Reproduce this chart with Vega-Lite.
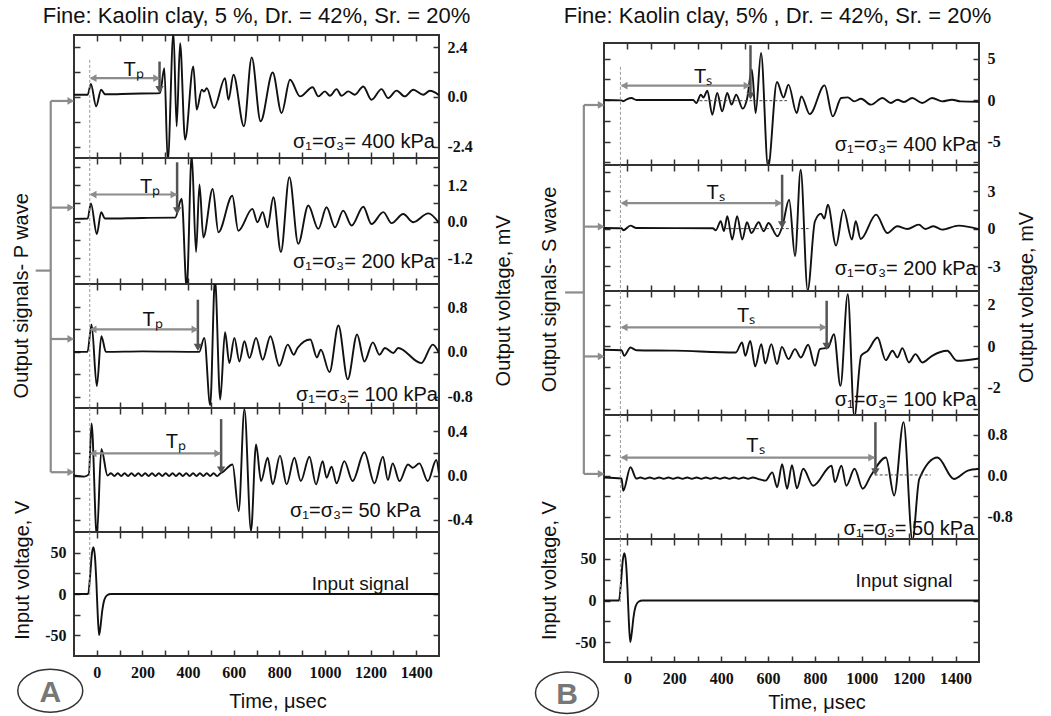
{
"$schema":"https://vega.github.io/schema/vega-lite/v6.json",
"background":"white",
"padding":{"left":10,"top":4,"right":5,"bottom":5},
"config":{"view":{"stroke":"#333","strokeWidth":2},"font":"Liberation Sans",
 "line":{"strokeWidth":1.9,"color":"#111","interpolate":"monotone"},
 "axis":{"domain":false,"grid":false,"tickColor":"#333","tickWidth":1.5,"tickSize":-6,"labelFont":"Liberation Sans Narrow","labelFontSize":16,"labelFontWeight":700,"labelColor":"#111","labelOverlap":false,"labelFlush":false,"labelPadding":14}},
"datasets":{
"w":[
{"s":"A1","t":-100,"v":0.1},{"s":"A1","t":-40,"v":0.1},{"s":"A1","t":-26,"v":0.62},{"s":"A1","t":-3,"v":-0.46},{"s":"A1","t":19,"v":0.34},{"s":"A1","t":36,"v":0.12},{"s":"A1","t":150,"v":0.15},{"s":"A1","t":277,"v":0.18},{"s":"A1","t":296,"v":1.38},{"s":"A1","t":311,"v":-3.1},{"s":"A1","t":336,"v":3.1},{"s":"A1","t":350,"v":-1.42},{"s":"A1","t":365,"v":2.58},{"s":"A1","t":387,"v":-2.06},{"s":"A1","t":423,"v":1.46},{"s":"A1","t":438,"v":-0.62},{"s":"A1","t":460,"v":0.34},{"s":"A1","t":470,"v":0.25},{"s":"A1","t":482,"v":0.42},{"s":"A1","t":514,"v":-0.54},{"s":"A1","t":562,"v":0.9},{"s":"A1","t":577,"v":-0.14},{"s":"A1","t":599,"v":1.06},{"s":"A1","t":645,"v":-1.42},{"s":"A1","t":679,"v":1.9},{"s":"A1","t":718,"v":-1.18},{"s":"A1","t":771,"v":1.17},{"s":"A1","t":810,"v":-0.78},{"s":"A1","t":847,"v":0.82},{"s":"A1","t":891,"v":0.02},{"s":"A1","t":946,"v":0.46},{"s":"A1","t":971,"v":0.02},{"s":"A1","t":1000,"v":0.26},{"s":"A1","t":1022,"v":0.05},{"s":"A1","t":1051,"v":0.37},{"s":"A1","t":1073,"v":0.05},{"s":"A1","t":1102,"v":0.26},{"s":"A1","t":1131,"v":0.1},{"s":"A1","t":1168,"v":0.5},{"s":"A1","t":1204,"v":-0.14},{"s":"A1","t":1248,"v":0.37},{"s":"A1","t":1277,"v":-0.06},{"s":"A1","t":1314,"v":0.3},{"s":"A1","t":1350,"v":0.02},{"s":"A1","t":1387,"v":0.34},{"s":"A1","t":1431,"v":0.1},{"s":"A1","t":1460,"v":0.29},{"s":"A1","t":1500,"v":0.08},
{"s":"A2","t":-100,"v":0.09},{"s":"A2","t":-40,"v":0.1},{"s":"A2","t":-26,"v":0.6},{"s":"A2","t":0,"v":-0.41},{"s":"A2","t":19,"v":0.31},{"s":"A2","t":36,"v":0.1},{"s":"A2","t":200,"v":0.12},{"s":"A2","t":343,"v":0.13},{"s":"A2","t":372,"v":0.75},{"s":"A2","t":394,"v":-2.2},{"s":"A2","t":416,"v":2.2},{"s":"A2","t":435,"v":-1.0},{"s":"A2","t":450,"v":1.22},{"s":"A2","t":467,"v":-0.52},{"s":"A2","t":508,"v":1.07},{"s":"A2","t":533,"v":-0.35},{"s":"A2","t":594,"v":0.85},{"s":"A2","t":620,"v":-0.3},{"s":"A2","t":682,"v":0.42},{"s":"A2","t":704,"v":-0.02},{"s":"A2","t":727,"v":0.31},{"s":"A2","t":748,"v":-0.19},{"s":"A2","t":774,"v":0.8},{"s":"A2","t":807,"v":-1.0},{"s":"A2","t":844,"v":1.46},{"s":"A2","t":883,"v":-0.73},{"s":"A2","t":927,"v":0.53},{"s":"A2","t":971,"v":-0.24},{"s":"A2","t":1007,"v":0.47},{"s":"A2","t":1044,"v":-0.19},{"s":"A2","t":1080,"v":0.36},{"s":"A2","t":1117,"v":-0.13},{"s":"A2","t":1168,"v":0.49},{"s":"A2","t":1204,"v":-0.08},{"s":"A2","t":1256,"v":0.31},{"s":"A2","t":1292,"v":-0.05},{"s":"A2","t":1343,"v":0.25},{"s":"A2","t":1387,"v":-0.02},{"s":"A2","t":1453,"v":0.27},{"s":"A2","t":1500,"v":-0.05},
{"s":"A3","t":-100,"v":0},{"s":"A3","t":-41,"v":0},{"s":"A3","t":-23,"v":0.49},{"s":"A3","t":0,"v":-0.61},{"s":"A3","t":20,"v":0.28},{"s":"A3","t":40,"v":0},{"s":"A3","t":200,"v":0.01},{"s":"A3","t":449,"v":0},{"s":"A3","t":471,"v":0.25},{"s":"A3","t":497,"v":-0.95},{"s":"A3","t":518,"v":1.3},{"s":"A3","t":541,"v":-0.85},{"s":"A3","t":562,"v":0.35},{"s":"A3","t":581,"v":-0.2},{"s":"A3","t":603,"v":0.25},{"s":"A3","t":625,"v":-0.17},{"s":"A3","t":647,"v":0.19},{"s":"A3","t":669,"v":-0.11},{"s":"A3","t":698,"v":0.25},{"s":"A3","t":727,"v":-0.14},{"s":"A3","t":761,"v":0.28},{"s":"A3","t":800,"v":-0.25},{"s":"A3","t":837,"v":0.13},{"s":"A3","t":863,"v":-0.05},{"s":"A3","t":880,"v":0.07},{"s":"A3","t":936,"v":0.22},{"s":"A3","t":965,"v":-0.1},{"s":"A3","t":982,"v":0.04},{"s":"A3","t":1020,"v":-0.36},{"s":"A3","t":1059,"v":0.47},{"s":"A3","t":1100,"v":-0.49},{"s":"A3","t":1141,"v":0.31},{"s":"A3","t":1173,"v":-0.17},{"s":"A3","t":1210,"v":0.17},{"s":"A3","t":1239,"v":-0.05},{"s":"A3","t":1263,"v":0.07},{"s":"A3","t":1300,"v":-0.02},{"s":"A3","t":1321,"v":0.07},{"s":"A3","t":1422,"v":-0.2},{"s":"A3","t":1473,"v":0.13},{"s":"A3","t":1500,"v":-0.02},
{"s":"A4","t":-100,"v":0},{"s":"A4","t":-55,"v":-0.01},{"s":"A4","t":-35,"v":0.01},{"s":"A4","t":-23,"v":0.47},{"s":"A4","t":0,"v":-0.55},{"s":"A4","t":20,"v":0.24},{"s":"A4","t":47,"v":0},{"s":"A4","t":62,"v":0.02},{"s":"A4","t":77,"v":-0.005},{"s":"A4","t":92,"v":0.02},{"s":"A4","t":107,"v":-0.005},{"s":"A4","t":122,"v":0.02},{"s":"A4","t":137,"v":-0.005},{"s":"A4","t":152,"v":0.02},{"s":"A4","t":167,"v":-0.005},{"s":"A4","t":182,"v":0.02},{"s":"A4","t":197,"v":-0.005},{"s":"A4","t":212,"v":0.02},{"s":"A4","t":227,"v":-0.005},{"s":"A4","t":242,"v":0.02},{"s":"A4","t":257,"v":-0.005},{"s":"A4","t":272,"v":0.02},{"s":"A4","t":287,"v":-0.005},{"s":"A4","t":302,"v":0.02},{"s":"A4","t":317,"v":-0.005},{"s":"A4","t":332,"v":0.02},{"s":"A4","t":347,"v":-0.005},{"s":"A4","t":362,"v":0.02},{"s":"A4","t":377,"v":-0.005},{"s":"A4","t":392,"v":0.02},{"s":"A4","t":407,"v":-0.005},{"s":"A4","t":422,"v":0.02},{"s":"A4","t":437,"v":-0.005},{"s":"A4","t":452,"v":0.02},{"s":"A4","t":467,"v":-0.005},{"s":"A4","t":482,"v":0.02},{"s":"A4","t":497,"v":-0.005},{"s":"A4","t":512,"v":0.02},{"s":"A4","t":527,"v":-0.005},{"s":"A4","t":542,"v":0.02},{"s":"A4","t":551,"v":0.03},{"s":"A4","t":595,"v":0.1},{"s":"A4","t":622,"v":-0.32},{"s":"A4","t":647,"v":0.6},{"s":"A4","t":676,"v":-0.5},{"s":"A4","t":698,"v":0.28},{"s":"A4","t":720,"v":-0.05},{"s":"A4","t":749,"v":0.16},{"s":"A4","t":771,"v":-0.08},{"s":"A4","t":803,"v":0.18},{"s":"A4","t":832,"v":-0.08},{"s":"A4","t":866,"v":0.16},{"s":"A4","t":894,"v":-0.05},{"s":"A4","t":932,"v":0.17},{"s":"A4","t":961,"v":-0.08},{"s":"A4","t":990,"v":0.13},{"s":"A4","t":1007,"v":-0.02},{"s":"A4","t":1029,"v":0.08},{"s":"A4","t":1051,"v":-0.07},{"s":"A4","t":1085,"v":0.13},{"s":"A4","t":1121,"v":-0.05},{"s":"A4","t":1173,"v":0.21},{"s":"A4","t":1217,"v":-0.07},{"s":"A4","t":1254,"v":0.17},{"s":"A4","t":1276,"v":-0.04},{"s":"A4","t":1297,"v":0.11},{"s":"A4","t":1327,"v":-0.05},{"s":"A4","t":1364,"v":0.1},{"s":"A4","t":1385,"v":0.07},{"s":"A4","t":1414,"v":0.11},{"s":"A4","t":1451,"v":-0.05},{"s":"A4","t":1488,"v":0.14},{"s":"A4","t":1500,"v":0.02},
{"s":"A5","t":-100,"v":0},{"s":"A5","t":-38,"v":0},{"s":"A5","t":-30,"v":20},{"s":"A5","t":-22,"v":48},{"s":"A5","t":-15,"v":57},{"s":"A5","t":-8,"v":45},{"s":"A5","t":-2,"v":15},{"s":"A5","t":4,"v":-25},{"s":"A5","t":10,"v":-50},{"s":"A5","t":16,"v":-40},{"s":"A5","t":24,"v":-20},{"s":"A5","t":33,"v":-7},{"s":"A5","t":45,"v":-1.5},{"s":"A5","t":62,"v":0},{"s":"A5","t":1500,"v":0},
{"s":"B1","t":-100,"v":0},{"s":"B1","t":-25,"v":-0.04},{"s":"B1","t":-18,"v":-0.15},{"s":"B1","t":-1,"v":0.12},{"s":"B1","t":17,"v":0.24},{"s":"B1","t":38,"v":0},{"s":"B1","t":280,"v":0},{"s":"B1","t":294,"v":-0.36},{"s":"B1","t":313,"v":0.64},{"s":"B1","t":324,"v":0.3},{"s":"B1","t":341,"v":1.12},{"s":"B1","t":362,"v":-1.77},{"s":"B1","t":383,"v":0.84},{"s":"B1","t":404,"v":-1.37},{"s":"B1","t":426,"v":0.84},{"s":"B1","t":444,"v":-0.56},{"s":"B1","t":464,"v":0.64},{"s":"B1","t":492,"v":-1.04},{"s":"B1","t":510,"v":0.1},{"s":"B1","t":531,"v":3.65},{"s":"B1","t":547,"v":-1.57},{"s":"B1","t":570,"v":5.66},{"s":"B1","t":600,"v":-8.1},{"s":"B1","t":638,"v":2.17},{"s":"B1","t":666,"v":0.3},{"s":"B1","t":687,"v":1.85},{"s":"B1","t":722,"v":-1.57},{"s":"B1","t":742,"v":0.44},{"s":"B1","t":778,"v":-1.7},{"s":"B1","t":841,"v":1.77},{"s":"B1","t":876,"v":-1.97},{"s":"B1","t":912,"v":0.24},{"s":"B1","t":940,"v":0.32},{"s":"B1","t":968,"v":-0.16},{"s":"B1","t":997,"v":0.16},{"s":"B1","t":1039,"v":-0.56},{"s":"B1","t":1088,"v":0.24},{"s":"B1","t":1124,"v":-0.36},{"s":"B1","t":1152,"v":0.04},{"s":"B1","t":1180,"v":-0.24},{"s":"B1","t":1215,"v":0.24},{"s":"B1","t":1258,"v":-0.36},{"s":"B1","t":1300,"v":0.24},{"s":"B1","t":1343,"v":-0.16},{"s":"B1","t":1385,"v":0.04},{"s":"B1","t":1420,"v":-0.16},{"s":"B1","t":1500,"v":-0.2},
{"s":"B2","t":-100,"v":0.05},{"s":"B2","t":-25,"v":0.03},{"s":"B2","t":-18,"v":-0.13},{"s":"B2","t":13,"v":0.24},{"s":"B2","t":38,"v":0.05},{"s":"B2","t":364,"v":0.03},{"s":"B2","t":377,"v":-0.13},{"s":"B2","t":398,"v":0.59},{"s":"B2","t":412,"v":-0.2},{"s":"B2","t":426,"v":0.99},{"s":"B2","t":447,"v":-0.88},{"s":"B2","t":468,"v":0.99},{"s":"B2","t":490,"v":-0.88},{"s":"B2","t":510,"v":0.51},{"s":"B2","t":529,"v":-0.35},{"s":"B2","t":560,"v":0.51},{"s":"B2","t":581,"v":-0.21},{"s":"B2","t":602,"v":0.45},{"s":"B2","t":640,"v":-0.61},{"s":"B2","t":661,"v":0.19},{"s":"B2","t":690,"v":2.32},{"s":"B2","t":715,"v":-2.21},{"s":"B2","t":739,"v":4.72},{"s":"B2","t":769,"v":-4.95},{"s":"B2","t":800,"v":0.59},{"s":"B2","t":826,"v":1.2},{"s":"B2","t":840,"v":0.8},{"s":"B2","t":855,"v":1.92},{"s":"B2","t":890,"v":-1.36},{"s":"B2","t":922,"v":1.52},{"s":"B2","t":958,"v":-0.88},{"s":"B2","t":974,"v":0.59},{"s":"B2","t":995,"v":-0.83},{"s":"B2","t":1061,"v":1.12},{"s":"B2","t":1109,"v":-0.35},{"s":"B2","t":1151,"v":0.19},{"s":"B2","t":1194,"v":-0.03},{"s":"B2","t":1243,"v":0.32},{"s":"B2","t":1271,"v":-0.03},{"s":"B2","t":1306,"v":0.19},{"s":"B2","t":1342,"v":-0.08},{"s":"B2","t":1413,"v":0.24},{"s":"B2","t":1500,"v":-0.05},
{"s":"B3","t":-100,"v":-0.16},{"s":"B3","t":-25,"v":-0.18},{"s":"B3","t":-14,"v":-0.45},{"s":"B3","t":13,"v":-0.05},{"s":"B3","t":38,"v":-0.18},{"s":"B3","t":200,"v":-0.2},{"s":"B3","t":462,"v":-0.29},{"s":"B3","t":489,"v":0.19},{"s":"B3","t":503,"v":-0.45},{"s":"B3","t":524,"v":0.27},{"s":"B3","t":545,"v":-0.96},{"s":"B3","t":571,"v":0.11},{"s":"B3","t":588,"v":-0.82},{"s":"B3","t":614,"v":0.11},{"s":"B3","t":638,"v":-0.85},{"s":"B3","t":659,"v":-0.02},{"s":"B3","t":687,"v":-0.61},{"s":"B3","t":715,"v":-0.13},{"s":"B3","t":740,"v":-0.53},{"s":"B3","t":771,"v":0.08},{"s":"B3","t":800,"v":-0.93},{"s":"B3","t":821,"v":-0.13},{"s":"B3","t":856,"v":-0.05},{"s":"B3","t":881,"v":0.59},{"s":"B3","t":909,"v":-1.9},{"s":"B3","t":940,"v":2.52},{"s":"B3","t":968,"v":-3.4},{"s":"B3","t":997,"v":-0.45},{"s":"B3","t":1025,"v":-0.21},{"s":"B3","t":1067,"v":0.43},{"s":"B3","t":1102,"v":-0.66},{"s":"B3","t":1131,"v":-0.21},{"s":"B3","t":1152,"v":-0.53},{"s":"B3","t":1173,"v":-0.08},{"s":"B3","t":1201,"v":-0.77},{"s":"B3","t":1229,"v":-0.37},{"s":"B3","t":1258,"v":-0.77},{"s":"B3","t":1300,"v":-0.45},{"s":"B3","t":1364,"v":-0.21},{"s":"B3","t":1406,"v":-0.69},{"s":"B3","t":1500,"v":-0.58},
{"s":"B4","t":-100,"v":-0.03},{"s":"B4","t":-25,"v":-0.05},{"s":"B4","t":-18,"v":-0.29},{"s":"B4","t":13,"v":0.17},{"s":"B4","t":38,"v":-0.05},{"s":"B4","t":55,"v":-0.03},{"s":"B4","t":75,"v":-0.055},{"s":"B4","t":95,"v":-0.03},{"s":"B4","t":115,"v":-0.055},{"s":"B4","t":135,"v":-0.03},{"s":"B4","t":155,"v":-0.055},{"s":"B4","t":175,"v":-0.03},{"s":"B4","t":195,"v":-0.055},{"s":"B4","t":215,"v":-0.03},{"s":"B4","t":235,"v":-0.055},{"s":"B4","t":255,"v":-0.03},{"s":"B4","t":275,"v":-0.055},{"s":"B4","t":295,"v":-0.03},{"s":"B4","t":315,"v":-0.055},{"s":"B4","t":335,"v":-0.03},{"s":"B4","t":355,"v":-0.055},{"s":"B4","t":375,"v":-0.03},{"s":"B4","t":395,"v":-0.055},{"s":"B4","t":415,"v":-0.03},{"s":"B4","t":435,"v":-0.055},{"s":"B4","t":455,"v":-0.03},{"s":"B4","t":475,"v":-0.055},{"s":"B4","t":495,"v":-0.03},{"s":"B4","t":515,"v":-0.055},{"s":"B4","t":535,"v":-0.03},{"s":"B4","t":560,"v":-0.06},{"s":"B4","t":589,"v":-0.09},{"s":"B4","t":618,"v":0.07},{"s":"B4","t":639,"v":-0.22},{"s":"B4","t":660,"v":0.23},{"s":"B4","t":681,"v":-0.25},{"s":"B4","t":702,"v":0.21},{"s":"B4","t":723,"v":-0.24},{"s":"B4","t":750,"v":0.14},{"s":"B4","t":792,"v":-0.19},{"s":"B4","t":871,"v":0.2},{"s":"B4","t":885,"v":-0.12},{"s":"B4","t":913,"v":0.2},{"s":"B4","t":934,"v":-0.19},{"s":"B4","t":969,"v":0.14},{"s":"B4","t":1004,"v":-0.25},{"s":"B4","t":1039,"v":0.01},{"s":"B4","t":1103,"v":0.36},{"s":"B4","t":1138,"v":-0.38},{"s":"B4","t":1178,"v":1.05},{"s":"B4","t":1216,"v":-1.25},{"s":"B4","t":1245,"v":-0.06},{"s":"B4","t":1323,"v":0.36},{"s":"B4","t":1393,"v":-0.06},{"s":"B4","t":1450,"v":0.1},{"s":"B4","t":1500,"v":0.14},
{"s":"B5","t":-100,"v":0},{"s":"B5","t":-36,"v":0},{"s":"B5","t":-28,"v":20},{"s":"B5","t":-20,"v":48},{"s":"B5","t":-13,"v":57},{"s":"B5","t":-6,"v":45},{"s":"B5","t":0,"v":15},{"s":"B5","t":6,"v":-25},{"s":"B5","t":12,"v":-50},{"s":"B5","t":18,"v":-40},{"s":"B5","t":26,"v":-20},{"s":"B5","t":35,"v":-7},{"s":"B5","t":47,"v":-1.5},{"s":"B5","t":65,"v":0},{"s":"B5","t":1500,"v":0}
],
"a":[
{"s":"A1","k":"vdash","t":-31,"v":1.78,"v2":-2.95},{"s":"A2","k":"vdash","t":-31,"v":2.09,"v2":-2.05},{"s":"A3","k":"vdash","t":-31,"v":1.21,"v2":-1.0},{"s":"A4","k":"vdash","t":-31,"v":0.61,"v2":-0.51},{"s":"A5","k":"vdash","t":-31,"v":75.6,"v2":-4},
{"s":"B1","k":"vdash","t":-30,"v":4.0,"v2":-7.83},{"s":"B2","k":"vdash","t":-30,"v":5.1,"v2":-5.0},{"s":"B3","k":"vdash","t":-30,"v":2.67,"v2":-3.3},{"s":"B4","k":"vdash","t":-30,"v":1.19,"v2":-1.23},{"s":"B5","k":"vdash","t":-30,"v":74,"v2":-4},
{"s":"A1","k":"g","t":-26,"t2":272,"v":0.9,"v2":0.9},{"s":"A1","k":"g","t":-202,"t2":-202,"v":-0.2,"v2":-2.95},{"s":"A1","k":"g","t":-202,"t2":-122,"v":-0.2,"v2":-0.2},
{"s":"A2","k":"g","t":-26,"t2":348,"v":0.89,"v2":0.89},{"s":"A2","k":"g","t":-202,"t2":-202,"v":2.09,"v2":-2.05},{"s":"A2","k":"g","t":-202,"t2":-122,"v":0.46,"v2":0.46},{"s":"A2","k":"g","t":-268,"t2":-202,"v":-1.61,"v2":-1.61},
{"s":"A3","k":"g","t":-26,"t2":440,"v":0.4,"v2":0.4},{"s":"A3","k":"g","t":-202,"t2":-202,"v":1.21,"v2":-1.0},{"s":"A3","k":"g","t":-202,"t2":-122,"v":0.23,"v2":0.23},
{"s":"A4","k":"g","t":-26,"t2":540,"v":0.2,"v2":0.2},{"s":"A4","k":"g","t":-202,"t2":-202,"v":0.61,"v2":0.03},{"s":"A4","k":"g","t":-202,"t2":-122,"v":0.03,"v2":0.03},
{"s":"B1","k":"g","t":-24,"t2":520,"v":1.73,"v2":1.73},{"s":"B1","k":"g","t":-186,"t2":-186,"v":-0.6,"v2":-7.83},{"s":"B1","k":"g","t":-186,"t2":-120,"v":-0.6,"v2":-0.6},
{"s":"B2","k":"g","t":-24,"t2":655,"v":2.05,"v2":2.05},{"s":"B2","k":"g","t":-186,"t2":-186,"v":5.1,"v2":-5.0},{"s":"B2","k":"g","t":-186,"t2":-120,"v":0.16,"v2":0.16},
{"s":"B3","k":"g","t":-24,"t2":845,"v":0.92,"v2":0.92},{"s":"B3","k":"g","t":-186,"t2":-186,"v":2.67,"v2":-3.3},{"s":"B3","k":"g","t":-186,"t2":-120,"v":-0.48,"v2":-0.48},{"s":"B3","k":"g","t":-266,"t2":-186,"v":2.6,"v2":2.6},
{"s":"B4","k":"g","t":-24,"t2":1052,"v":0.36,"v2":0.36},{"s":"B4","k":"g","t":-186,"t2":-186,"v":1.19,"v2":0.04},{"s":"B4","k":"g","t":-186,"t2":-120,"v":0.04,"v2":0.04},
{"s":"A1","k":"hr","t":262,"v":0.9},{"s":"A1","k":"hr","t":-114,"v":-0.2},{"s":"A2","k":"hr","t":338,"v":0.89},{"s":"A2","k":"hr","t":-114,"v":0.46},{"s":"A3","k":"hr","t":430,"v":0.4},{"s":"A3","k":"hr","t":-114,"v":0.23},{"s":"A4","k":"hr","t":530,"v":0.2},{"s":"A4","k":"hr","t":-114,"v":0.03},
{"s":"B1","k":"hr","t":510,"v":1.73},{"s":"B1","k":"hr","t":-112,"v":-0.6},{"s":"B2","k":"hr","t":645,"v":2.05},{"s":"B2","k":"hr","t":-112,"v":0.16},{"s":"B3","k":"hr","t":835,"v":0.92},{"s":"B3","k":"hr","t":-112,"v":-0.48},{"s":"B4","k":"hr","t":1042,"v":0.36},{"s":"B4","k":"hr","t":-112,"v":0.04},
{"s":"A1","k":"hl","t":-16,"v":0.9},{"s":"A2","k":"hl","t":-16,"v":0.89},{"s":"A3","k":"hl","t":-16,"v":0.4},{"s":"A4","k":"hl","t":-16,"v":0.2},{"s":"B1","k":"hl","t":-14,"v":1.73},{"s":"B2","k":"hl","t":-14,"v":2.05},{"s":"B3","k":"hl","t":-14,"v":0.92},{"s":"B4","k":"hl","t":-14,"v":0.36},
{"s":"A1","k":"tv","t":275,"v":1.7,"v2":0.35},{"s":"A2","k":"tv","t":352,"v":1.95,"v2":0.35},{"s":"A3","k":"tv","t":443,"v":0.93,"v2":0.08},{"s":"A4","k":"tv","t":545,"v":0.51,"v2":0.05},{"s":"B1","k":"tv","t":525,"v":6.6,"v2":0.5},{"s":"B2","k":"tv","t":660,"v":4.32,"v2":0.3},{"s":"B3","k":"tv","t":850,"v":2.2,"v2":0.0},{"s":"B4","k":"tv","t":1058,"v":1.05,"v2":0.08},
{"s":"A1","k":"vd","t":275,"v":0.35},{"s":"A2","k":"vd","t":352,"v":0.35},{"s":"A3","k":"vd","t":443,"v":0.08},{"s":"A4","k":"vd","t":545,"v":0.05},{"s":"B1","k":"vd","t":525,"v":0.5},{"s":"B2","k":"vd","t":660,"v":0.3},{"s":"B3","k":"vd","t":850,"v":0.0},{"s":"B4","k":"vd","t":1058,"v":0.08},
{"s":"B1","k":"hd","t":307,"t2":681,"v":-0.08},{"s":"B2","k":"hd","t":420,"t2":773,"v":0},{"s":"B4","k":"hd","t":1055,"t2":1294,"v":0.02},
{"s":"A1","k":"tlab","t":161,"v":1.3,"label":"Tₚ"},{"s":"A2","k":"tlab","t":234,"v":1.13,"label":"Tₚ"},{"s":"A3","k":"tlab","t":245,"v":0.575,"label":"Tₚ"},{"s":"A4","k":"tlab","t":347,"v":0.306,"label":"Tₚ"},
{"s":"B1","k":"tlab","t":323,"v":2.73,"label":"Tₛ"},{"s":"B2","k":"tlab","t":376,"v":2.85,"label":"Tₛ"},{"s":"B3","k":"tlab","t":506,"v":1.48,"label":"Tₛ"},{"s":"B4","k":"tlab","t":546,"v":0.59,"label":"Tₛ"},
{"s":"A1","k":"plab","t":1482,"v":-2.46,"label":"σ₁=σ₃= 400 kPa"},{"s":"A2","k":"plab","t":1482,"v":-1.52,"label":"σ₁=σ₃= 200 kPa"},{"s":"A3","k":"plab","t":1495,"v":-0.88,"label":"σ₁=σ₃= 100 kPa"},{"s":"A4","k":"plab","t":1420,"v":-0.37,"label":"σ₁=σ₃= 50 kPa"},
{"s":"B1","k":"plab","t":1490,"v":-6.18,"label":"σ₁=σ₃= 400 kPa"},{"s":"B2","k":"plab","t":1490,"v":-3.68,"label":"σ₁=σ₃= 200 kPa"},{"s":"B3","k":"plab","t":1490,"v":-2.86,"label":"σ₁=σ₃= 100 kPa"},{"s":"B4","k":"plab","t":1480,"v":-1.16,"label":"σ₁=σ₃= 50 kPa"},
{"s":"A3","k":"side","t":-329,"v":1.0,"label":"Output signals- P wave"},{"s":"A3","k":"side","t":1785,"v":0.91,"label":"Output voltage, mV"},{"s":"A5","k":"side","t":-325,"v":29,"label":"Input voltage, V"},
{"s":"B3","k":"side","t":-330,"v":2.75,"label":"Output signals- S wave"},{"s":"B3","k":"side","t":1705,"v":2.36,"label":"Output voltage, mV"},{"s":"B5","k":"side","t":-330,"v":36,"label":"Input voltage, V"},
{"s":"A5","k":"ilab","t":1155,"v":4.9,"label":"Input signal"},{"s":"B5","k":"ilab","t":1180,"v":16,"label":"Input signal"},
{"s":"A5","k":"xt","t":794,"v":-131.7,"label":"Time, μsec"},{"s":"B5","k":"xt","t":809,"v":-123,"label":"Time, μsec"},
{"s":"A5","k":"circ","t":-204,"v":-118,"label":"A"},{"s":"B5","k":"circ","t":-258,"v":-111,"label":"B"}
]},
"hconcat":[
{"vconcat":[
{"width":365,"height":123,
 "title":{"text":"Fine: Kaolin clay, 5 %, Dr. = 42%, Sr. = 20%","fontSize":22,"fontWeight":"normal","font":"Liberation Sans","color":"#111","offset":6,"anchor":"middle"},
 "resolve":{"axis":{"x":"independent","y":"independent"}},
 "layer":[
 {"data":{"name":"w"},"transform":[{"filter":"datum.s=='A1'"}],"mark":{"type":"line","clip":true},
  "encoding":{"x":{"field":"t","type":"quantitative","scale":{"domain":[-100,1500],"nice":false,"zero":false},"axis":{"orient":"bottom","values":[0,100,200,300,400,500,600,700,800,900,1000,1100,1200,1300,1400],"labels":false,"title":null}},
   "y":{"field":"v","type":"quantitative","scale":{"domain":[-2.95,2.98],"nice":false,"zero":false},"axis":{"orient":"right","values":[-2.4,-1.2,0,1.2,2.4],"labelExpr":"datum.value==2.4?'2.4':datum.value==0?'0.0':datum.value==-2.4?'-2.4':''","title":null}}}},
 {"data":{"name":"a"},"transform":[{"filter":"datum.s=='A1'&&datum.k=='vdash'"}],"mark":{"type":"rule","color":"#999","strokeDash":[3,2],"strokeWidth":1},
  "encoding":{"x":{"field":"t","type":"quantitative","axis":{"orient":"top","values":[0,100,200,300,400,500,600,700,800,900,1000,1100,1200,1300,1400],"labels":false,"title":null}},"y":{"field":"v","type":"quantitative","axis":{"orient":"left","values":[-2.4,-1.2,0,1.2,2.4],"labels":false,"title":null}},"y2":{"field":"v2"}}},
 {"data":{"name":"a"},"transform":[{"filter":"datum.s=='A1'&&datum.k=='g'"}],"mark":{"type":"rule","color":"#8c8c8c","strokeWidth":2.2},
  "encoding":{"x":{"field":"t","type":"quantitative","axis":null},"x2":{"field":"t2"},"y":{"field":"v","type":"quantitative","axis":null},"y2":{"field":"v2"}}},
 {"data":{"name":"a"},"transform":[{"filter":"datum.s=='A1'&&datum.k=='tv'"}],"mark":{"type":"rule","color":"#555","strokeWidth":2.5},
  "encoding":{"x":{"field":"t","type":"quantitative","axis":null},"y":{"field":"v","type":"quantitative","axis":null},"y2":{"field":"v2"}}},
 {"data":{"name":"a"},"transform":[{"filter":"datum.s=='A1'&&datum.k=='hr'"}],"mark":{"type":"point","shape":"triangle-right","filled":true,"color":"#8c8c8c","size":60,"opacity":1},
  "encoding":{"x":{"field":"t","type":"quantitative","axis":null},"y":{"field":"v","type":"quantitative","axis":null}}},
 {"data":{"name":"a"},"transform":[{"filter":"datum.s=='A1'&&datum.k=='hl'"}],"mark":{"type":"point","shape":"triangle-left","filled":true,"color":"#8c8c8c","size":60,"opacity":1},
  "encoding":{"x":{"field":"t","type":"quantitative","axis":null},"y":{"field":"v","type":"quantitative","axis":null}}},
 {"data":{"name":"a"},"transform":[{"filter":"datum.s=='A1'&&datum.k=='vd'"}],"mark":{"type":"point","shape":"triangle-down","filled":true,"color":"#555","size":70,"opacity":1},
  "encoding":{"x":{"field":"t","type":"quantitative","axis":null},"y":{"field":"v","type":"quantitative","axis":null}}},
 {"data":{"name":"a"},"transform":[{"filter":"datum.s=='A1'&&datum.k=='tlab'"}],"mark":{"type":"text","fontSize":20,"color":"#111","align":"center","baseline":"middle"},
  "encoding":{"x":{"field":"t","type":"quantitative","axis":null},"y":{"field":"v","type":"quantitative","axis":null},"text":{"field":"label","type":"nominal"}}},
 {"data":{"name":"a"},"transform":[{"filter":"datum.s=='A1'&&datum.k=='plab'"}],"mark":{"type":"text","fontSize":20,"color":"#111","align":"right","baseline":"alphabetic"},
  "encoding":{"x":{"field":"t","type":"quantitative","axis":null},"y":{"field":"v","type":"quantitative","axis":null},"text":{"field":"label","type":"nominal"}}}
 ]},
{"width":365,"height":126,
 "resolve":{"axis":{"x":"independent","y":"independent"}},
 "layer":[
 {"data":{"name":"w"},"transform":[{"filter":"datum.s=='A2'"}],"mark":{"type":"line","clip":true},
  "encoding":{"x":{"field":"t","type":"quantitative","scale":{"domain":[-100,1500],"nice":false,"zero":false},"axis":{"orient":"bottom","values":[0,100,200,300,400,500,600,700,800,900,1000,1100,1200,1300,1400],"labels":false,"title":null}},
   "y":{"field":"v","type":"quantitative","scale":{"domain":[-2.05,2.09],"nice":false,"zero":false},"axis":{"orient":"right","values":[-1.8,-1.2,-0.6,0,0.6,1.2,1.8],"labelExpr":"datum.value==1.2?'1.2':datum.value==0?'0.0':datum.value==-1.2?'-1.2':''","title":null}}}},
 {"data":{"name":"a"},"transform":[{"filter":"datum.s=='A2'&&datum.k=='vdash'"}],"mark":{"type":"rule","color":"#999","strokeDash":[3,2],"strokeWidth":1},
  "encoding":{"x":{"field":"t","type":"quantitative","axis":{"orient":"top","values":[0,100,200,300,400,500,600,700,800,900,1000,1100,1200,1300,1400],"labels":false,"title":null}},"y":{"field":"v","type":"quantitative","axis":{"orient":"left","values":[-1.8,-1.2,-0.6,0,0.6,1.2,1.8],"labels":false,"title":null}},"y2":{"field":"v2"}}},
 {"data":{"name":"a"},"transform":[{"filter":"datum.s=='A2'&&datum.k=='g'"}],"mark":{"type":"rule","color":"#8c8c8c","strokeWidth":2.2},
  "encoding":{"x":{"field":"t","type":"quantitative","axis":null},"x2":{"field":"t2"},"y":{"field":"v","type":"quantitative","axis":null},"y2":{"field":"v2"}}},
 {"data":{"name":"a"},"transform":[{"filter":"datum.s=='A2'&&datum.k=='tv'"}],"mark":{"type":"rule","color":"#555","strokeWidth":2.5},
  "encoding":{"x":{"field":"t","type":"quantitative","axis":null},"y":{"field":"v","type":"quantitative","axis":null},"y2":{"field":"v2"}}},
 {"data":{"name":"a"},"transform":[{"filter":"datum.s=='A2'&&datum.k=='hr'"}],"mark":{"type":"point","shape":"triangle-right","filled":true,"color":"#8c8c8c","size":60,"opacity":1},
  "encoding":{"x":{"field":"t","type":"quantitative","axis":null},"y":{"field":"v","type":"quantitative","axis":null}}},
 {"data":{"name":"a"},"transform":[{"filter":"datum.s=='A2'&&datum.k=='hl'"}],"mark":{"type":"point","shape":"triangle-left","filled":true,"color":"#8c8c8c","size":60,"opacity":1},
  "encoding":{"x":{"field":"t","type":"quantitative","axis":null},"y":{"field":"v","type":"quantitative","axis":null}}},
 {"data":{"name":"a"},"transform":[{"filter":"datum.s=='A2'&&datum.k=='vd'"}],"mark":{"type":"point","shape":"triangle-down","filled":true,"color":"#555","size":70,"opacity":1},
  "encoding":{"x":{"field":"t","type":"quantitative","axis":null},"y":{"field":"v","type":"quantitative","axis":null}}},
 {"data":{"name":"a"},"transform":[{"filter":"datum.s=='A2'&&datum.k=='tlab'"}],"mark":{"type":"text","fontSize":20,"color":"#111","align":"center","baseline":"middle"},
  "encoding":{"x":{"field":"t","type":"quantitative","axis":null},"y":{"field":"v","type":"quantitative","axis":null},"text":{"field":"label","type":"nominal"}}},
 {"data":{"name":"a"},"transform":[{"filter":"datum.s=='A2'&&datum.k=='plab'"}],"mark":{"type":"text","fontSize":20,"color":"#111","align":"right","baseline":"alphabetic"},
  "encoding":{"x":{"field":"t","type":"quantitative","axis":null},"y":{"field":"v","type":"quantitative","axis":null},"text":{"field":"label","type":"nominal"}}}
 ]},
{"width":365,"height":124,
 "resolve":{"axis":{"x":"independent","y":"independent"}},
 "layer":[
 {"data":{"name":"w"},"transform":[{"filter":"datum.s=='A3'"}],"mark":{"type":"line","clip":true},
  "encoding":{"x":{"field":"t","type":"quantitative","scale":{"domain":[-100,1500],"nice":false,"zero":false},"axis":{"orient":"bottom","values":[0,100,200,300,400,500,600,700,800,900,1000,1100,1200,1300,1400],"labels":false,"title":null}},
   "y":{"field":"v","type":"quantitative","scale":{"domain":[-1.0,1.21],"nice":false,"zero":false},"axis":{"orient":"right","values":[-0.8,-0.4,0,0.4,0.8],"labelExpr":"datum.value==0.8?'0.8':datum.value==0?'0.0':datum.value==-0.8?'-0.8':''","title":null}}}},
 {"data":{"name":"a"},"transform":[{"filter":"datum.s=='A3'&&datum.k=='vdash'"}],"mark":{"type":"rule","color":"#999","strokeDash":[3,2],"strokeWidth":1},
  "encoding":{"x":{"field":"t","type":"quantitative","axis":{"orient":"top","values":[0,100,200,300,400,500,600,700,800,900,1000,1100,1200,1300,1400],"labels":false,"title":null}},"y":{"field":"v","type":"quantitative","axis":{"orient":"left","values":[-0.8,-0.4,0,0.4,0.8],"labels":false,"title":null}},"y2":{"field":"v2"}}},
 {"data":{"name":"a"},"transform":[{"filter":"datum.s=='A3'&&datum.k=='g'"}],"mark":{"type":"rule","color":"#8c8c8c","strokeWidth":2.2},
  "encoding":{"x":{"field":"t","type":"quantitative","axis":null},"x2":{"field":"t2"},"y":{"field":"v","type":"quantitative","axis":null},"y2":{"field":"v2"}}},
 {"data":{"name":"a"},"transform":[{"filter":"datum.s=='A3'&&datum.k=='tv'"}],"mark":{"type":"rule","color":"#555","strokeWidth":2.5},
  "encoding":{"x":{"field":"t","type":"quantitative","axis":null},"y":{"field":"v","type":"quantitative","axis":null},"y2":{"field":"v2"}}},
 {"data":{"name":"a"},"transform":[{"filter":"datum.s=='A3'&&datum.k=='hr'"}],"mark":{"type":"point","shape":"triangle-right","filled":true,"color":"#8c8c8c","size":60,"opacity":1},
  "encoding":{"x":{"field":"t","type":"quantitative","axis":null},"y":{"field":"v","type":"quantitative","axis":null}}},
 {"data":{"name":"a"},"transform":[{"filter":"datum.s=='A3'&&datum.k=='hl'"}],"mark":{"type":"point","shape":"triangle-left","filled":true,"color":"#8c8c8c","size":60,"opacity":1},
  "encoding":{"x":{"field":"t","type":"quantitative","axis":null},"y":{"field":"v","type":"quantitative","axis":null}}},
 {"data":{"name":"a"},"transform":[{"filter":"datum.s=='A3'&&datum.k=='vd'"}],"mark":{"type":"point","shape":"triangle-down","filled":true,"color":"#555","size":70,"opacity":1},
  "encoding":{"x":{"field":"t","type":"quantitative","axis":null},"y":{"field":"v","type":"quantitative","axis":null}}},
 {"data":{"name":"a"},"transform":[{"filter":"datum.s=='A3'&&datum.k=='tlab'"}],"mark":{"type":"text","fontSize":20,"color":"#111","align":"center","baseline":"middle"},
  "encoding":{"x":{"field":"t","type":"quantitative","axis":null},"y":{"field":"v","type":"quantitative","axis":null},"text":{"field":"label","type":"nominal"}}},
 {"data":{"name":"a"},"transform":[{"filter":"datum.s=='A3'&&datum.k=='plab'"}],"mark":{"type":"text","fontSize":20,"color":"#111","align":"right","baseline":"alphabetic"},
  "encoding":{"x":{"field":"t","type":"quantitative","axis":null},"y":{"field":"v","type":"quantitative","axis":null},"text":{"field":"label","type":"nominal"}}},
 {"data":{"name":"a"},"transform":[{"filter":"datum.s=='A3'&&datum.k=='side'"}],"mark":{"type":"text","fontSize":20,"color":"#111","align":"center","baseline":"middle","angle":270},
  "encoding":{"x":{"field":"t","type":"quantitative","axis":null},"y":{"field":"v","type":"quantitative","axis":null},"text":{"field":"label","type":"nominal"}}}
 ]},
{"width":365,"height":124,
 "resolve":{"axis":{"x":"independent","y":"independent"}},
 "layer":[
 {"data":{"name":"w"},"transform":[{"filter":"datum.s=='A4'"}],"mark":{"type":"line","clip":true},
  "encoding":{"x":{"field":"t","type":"quantitative","scale":{"domain":[-100,1500],"nice":false,"zero":false},"axis":{"orient":"bottom","values":[0,100,200,300,400,500,600,700,800,900,1000,1100,1200,1300,1400],"labels":false,"title":null}},
   "y":{"field":"v","type":"quantitative","scale":{"domain":[-0.51,0.61],"nice":false,"zero":false},"axis":{"orient":"right","values":[-0.4,-0.2,0,0.2,0.4],"labelExpr":"datum.value==0.4?'0.4':datum.value==0?'0.0':datum.value==-0.4?'-0.4':''","title":null}}}},
 {"data":{"name":"a"},"transform":[{"filter":"datum.s=='A4'&&datum.k=='vdash'"}],"mark":{"type":"rule","color":"#999","strokeDash":[3,2],"strokeWidth":1},
  "encoding":{"x":{"field":"t","type":"quantitative","axis":{"orient":"top","values":[0,100,200,300,400,500,600,700,800,900,1000,1100,1200,1300,1400],"labels":false,"title":null}},"y":{"field":"v","type":"quantitative","axis":{"orient":"left","values":[-0.4,-0.2,0,0.2,0.4],"labels":false,"title":null}},"y2":{"field":"v2"}}},
 {"data":{"name":"a"},"transform":[{"filter":"datum.s=='A4'&&datum.k=='g'"}],"mark":{"type":"rule","color":"#8c8c8c","strokeWidth":2.2},
  "encoding":{"x":{"field":"t","type":"quantitative","axis":null},"x2":{"field":"t2"},"y":{"field":"v","type":"quantitative","axis":null},"y2":{"field":"v2"}}},
 {"data":{"name":"a"},"transform":[{"filter":"datum.s=='A4'&&datum.k=='tv'"}],"mark":{"type":"rule","color":"#555","strokeWidth":2.5},
  "encoding":{"x":{"field":"t","type":"quantitative","axis":null},"y":{"field":"v","type":"quantitative","axis":null},"y2":{"field":"v2"}}},
 {"data":{"name":"a"},"transform":[{"filter":"datum.s=='A4'&&datum.k=='hr'"}],"mark":{"type":"point","shape":"triangle-right","filled":true,"color":"#8c8c8c","size":60,"opacity":1},
  "encoding":{"x":{"field":"t","type":"quantitative","axis":null},"y":{"field":"v","type":"quantitative","axis":null}}},
 {"data":{"name":"a"},"transform":[{"filter":"datum.s=='A4'&&datum.k=='hl'"}],"mark":{"type":"point","shape":"triangle-left","filled":true,"color":"#8c8c8c","size":60,"opacity":1},
  "encoding":{"x":{"field":"t","type":"quantitative","axis":null},"y":{"field":"v","type":"quantitative","axis":null}}},
 {"data":{"name":"a"},"transform":[{"filter":"datum.s=='A4'&&datum.k=='vd'"}],"mark":{"type":"point","shape":"triangle-down","filled":true,"color":"#555","size":70,"opacity":1},
  "encoding":{"x":{"field":"t","type":"quantitative","axis":null},"y":{"field":"v","type":"quantitative","axis":null}}},
 {"data":{"name":"a"},"transform":[{"filter":"datum.s=='A4'&&datum.k=='tlab'"}],"mark":{"type":"text","fontSize":20,"color":"#111","align":"center","baseline":"middle"},
  "encoding":{"x":{"field":"t","type":"quantitative","axis":null},"y":{"field":"v","type":"quantitative","axis":null},"text":{"field":"label","type":"nominal"}}},
 {"data":{"name":"a"},"transform":[{"filter":"datum.s=='A4'&&datum.k=='plab'"}],"mark":{"type":"text","fontSize":20,"color":"#111","align":"right","baseline":"alphabetic"},
  "encoding":{"x":{"field":"t","type":"quantitative","axis":null},"y":{"field":"v","type":"quantitative","axis":null},"text":{"field":"label","type":"nominal"}}}
 ]},
{"width":365,"height":124,
 "resolve":{"axis":{"x":"independent","y":"independent"}},
 "layer":[
 {"data":{"name":"w"},"transform":[{"filter":"datum.s=='A5'"}],"mark":{"type":"line","clip":true},
  "encoding":{"x":{"field":"t","type":"quantitative","scale":{"domain":[-100,1500],"nice":false,"zero":false},"axis":{"orient":"bottom","values":[0,100,200,300,400,500,600,700,800,900,1000,1100,1200,1300,1400],"labelExpr":"datum.value%200==0?toString(datum.value):''","title":null}},
   "y":{"field":"v","type":"quantitative","scale":{"domain":[-75.6,75.6],"nice":false,"zero":false},"axis":{"orient":"left","values":[-50,-25,0,25,50],"labelExpr":"datum.value==50?'50':datum.value==0?'0':datum.value==-50?'-50':''","title":null}}}},
 {"data":{"name":"a"},"transform":[{"filter":"datum.s=='A5'&&datum.k=='vdash'"}],"mark":{"type":"rule","color":"#999","strokeDash":[3,2],"strokeWidth":1},
  "encoding":{"x":{"field":"t","type":"quantitative","axis":{"orient":"top","values":[0,100,200,300,400,500,600,700,800,900,1000,1100,1200,1300,1400],"labels":false,"title":null}},"y":{"field":"v","type":"quantitative","axis":{"orient":"right","values":[-50,-25,0,25,50],"labels":false,"title":null}},"y2":{"field":"v2"}}},
 {"data":{"name":"a"},"transform":[{"filter":"datum.s=='A5'&&datum.k=='ilab'"}],"mark":{"type":"text","fontSize":19,"color":"#111","align":"center","baseline":"alphabetic"},
  "encoding":{"x":{"field":"t","type":"quantitative","axis":null},"y":{"field":"v","type":"quantitative","axis":null},"text":{"field":"label","type":"nominal"}}},
 {"data":{"name":"a"},"transform":[{"filter":"datum.s=='A5'&&datum.k=='side'"}],"mark":{"type":"text","fontSize":20,"color":"#111","align":"center","baseline":"middle","angle":270},
  "encoding":{"x":{"field":"t","type":"quantitative","axis":null},"y":{"field":"v","type":"quantitative","axis":null},"text":{"field":"label","type":"nominal"}}},
 {"data":{"name":"a"},"transform":[{"filter":"datum.s=='A5'&&datum.k=='xt'"}],"mark":{"type":"text","fontSize":20,"color":"#111","align":"center","baseline":"middle"},
  "encoding":{"x":{"field":"t","type":"quantitative","axis":null},"y":{"field":"v","type":"quantitative","axis":null},"text":{"field":"label","type":"nominal"}}},
 {"data":{"name":"a"},"transform":[{"filter":"datum.s=='A5'&&datum.k=='circ'"}],"mark":{"type":"point","shape":"M -1 0 A 1 0.66 0 1 0 1 0 A 1 0.66 0 1 0 -1 0 Z","filled":false,"color":"#333","strokeWidth":1.5,"size":4225,"opacity":1},
  "encoding":{"x":{"field":"t","type":"quantitative","axis":null},"y":{"field":"v","type":"quantitative","axis":null}}},
 {"data":{"name":"a"},"transform":[{"filter":"datum.s=='A5'&&datum.k=='circ'"}],"mark":{"type":"text","fontSize":30,"fontWeight":"bold","color":"#777","align":"center","baseline":"middle","dy":2},
  "encoding":{"x":{"field":"t","type":"quantitative","axis":null},"y":{"field":"v","type":"quantitative","axis":null},"text":{"field":"label","type":"nominal"}}}
 ]}
],"spacing":0,"bounds":"flush"},
{"vconcat":[
{"width":375,"height":8,"data":{"values":[]},"mark":{"type":"point","opacity":0},"view":{"stroke":null},
 "title":{"text":"Fine: Kaolin clay, 5% , Dr. = 42%, Sr. = 20%","fontSize":22,"fontWeight":"normal","font":"Liberation Sans","color":"#111","offset":7,"anchor":"middle","dx":-14}},
{"width":375,"height":122,
 "resolve":{"axis":{"x":"independent","y":"independent"}},
 "layer":[
 {"data":{"name":"w"},"transform":[{"filter":"datum.s=='B1'"}],"mark":{"type":"line","clip":true},
  "encoding":{"x":{"field":"t","type":"quantitative","scale":{"domain":[-100,1500],"nice":false,"zero":false},"axis":{"orient":"bottom","values":[0,100,200,300,400,500,600,700,800,900,1000,1100,1200,1300,1400],"labels":false,"title":null}},
   "y":{"field":"v","type":"quantitative","scale":{"domain":[-7.83,6.87],"nice":false,"zero":false},"axis":{"orient":"right","values":[-7.5,-5,-2.5,0,2.5,5],"labelExpr":"datum.value==5?'5':datum.value==0?'0':datum.value==-5?'-5':''","title":null}}}},
 {"data":{"name":"a"},"transform":[{"filter":"datum.s=='B1'&&datum.k=='vdash'"}],"mark":{"type":"rule","color":"#999","strokeDash":[3,2],"strokeWidth":1},
  "encoding":{"x":{"field":"t","type":"quantitative","axis":{"orient":"top","values":[0,100,200,300,400,500,600,700,800,900,1000,1100,1200,1300,1400],"labels":false,"title":null}},"y":{"field":"v","type":"quantitative","axis":{"orient":"left","values":[-7.5,-5,-2.5,0,2.5,5],"labels":false,"title":null}},"y2":{"field":"v2"}}},
 {"data":{"name":"a"},"transform":[{"filter":"datum.s=='B1'&&datum.k=='hd'"}],"mark":{"type":"rule","color":"#444","strokeDash":[3,2],"strokeWidth":1},
  "encoding":{"x":{"field":"t","type":"quantitative","axis":null},"x2":{"field":"t2"},"y":{"field":"v","type":"quantitative","axis":null}}},
 {"data":{"name":"a"},"transform":[{"filter":"datum.s=='B1'&&datum.k=='g'"}],"mark":{"type":"rule","color":"#8c8c8c","strokeWidth":2.2},
  "encoding":{"x":{"field":"t","type":"quantitative","axis":null},"x2":{"field":"t2"},"y":{"field":"v","type":"quantitative","axis":null},"y2":{"field":"v2"}}},
 {"data":{"name":"a"},"transform":[{"filter":"datum.s=='B1'&&datum.k=='tv'"}],"mark":{"type":"rule","color":"#555","strokeWidth":2.5},
  "encoding":{"x":{"field":"t","type":"quantitative","axis":null},"y":{"field":"v","type":"quantitative","axis":null},"y2":{"field":"v2"}}},
 {"data":{"name":"a"},"transform":[{"filter":"datum.s=='B1'&&datum.k=='hr'"}],"mark":{"type":"point","shape":"triangle-right","filled":true,"color":"#8c8c8c","size":60,"opacity":1},
  "encoding":{"x":{"field":"t","type":"quantitative","axis":null},"y":{"field":"v","type":"quantitative","axis":null}}},
 {"data":{"name":"a"},"transform":[{"filter":"datum.s=='B1'&&datum.k=='hl'"}],"mark":{"type":"point","shape":"triangle-left","filled":true,"color":"#8c8c8c","size":60,"opacity":1},
  "encoding":{"x":{"field":"t","type":"quantitative","axis":null},"y":{"field":"v","type":"quantitative","axis":null}}},
 {"data":{"name":"a"},"transform":[{"filter":"datum.s=='B1'&&datum.k=='vd'"}],"mark":{"type":"point","shape":"triangle-down","filled":true,"color":"#555","size":70,"opacity":1},
  "encoding":{"x":{"field":"t","type":"quantitative","axis":null},"y":{"field":"v","type":"quantitative","axis":null}}},
 {"data":{"name":"a"},"transform":[{"filter":"datum.s=='B1'&&datum.k=='tlab'"}],"mark":{"type":"text","fontSize":20,"color":"#111","align":"center","baseline":"middle"},
  "encoding":{"x":{"field":"t","type":"quantitative","axis":null},"y":{"field":"v","type":"quantitative","axis":null},"text":{"field":"label","type":"nominal"}}},
 {"data":{"name":"a"},"transform":[{"filter":"datum.s=='B1'&&datum.k=='plab'"}],"mark":{"type":"text","fontSize":20,"color":"#111","align":"right","baseline":"alphabetic"},
  "encoding":{"x":{"field":"t","type":"quantitative","axis":null},"y":{"field":"v","type":"quantitative","axis":null},"text":{"field":"label","type":"nominal"}}}
 ]},
{"width":375,"height":126,
 "resolve":{"axis":{"x":"independent","y":"independent"}},
 "layer":[
 {"data":{"name":"w"},"transform":[{"filter":"datum.s=='B2'"}],"mark":{"type":"line","clip":true},
  "encoding":{"x":{"field":"t","type":"quantitative","scale":{"domain":[-100,1500],"nice":false,"zero":false},"axis":{"orient":"bottom","values":[0,100,200,300,400,500,600,700,800,900,1000,1100,1200,1300,1400],"labels":false,"title":null}},
   "y":{"field":"v","type":"quantitative","scale":{"domain":[-5.0,5.1],"nice":false,"zero":false},"axis":{"orient":"right","values":[-4.5,-3,-1.5,0,1.5,3,4.5],"labelExpr":"datum.value==3?'3':datum.value==0?'0':datum.value==-3?'-3':''","title":null}}}},
 {"data":{"name":"a"},"transform":[{"filter":"datum.s=='B2'&&datum.k=='vdash'"}],"mark":{"type":"rule","color":"#999","strokeDash":[3,2],"strokeWidth":1},
  "encoding":{"x":{"field":"t","type":"quantitative","axis":{"orient":"top","values":[0,100,200,300,400,500,600,700,800,900,1000,1100,1200,1300,1400],"labels":false,"title":null}},"y":{"field":"v","type":"quantitative","axis":{"orient":"left","values":[-4.5,-3,-1.5,0,1.5,3,4.5],"labels":false,"title":null}},"y2":{"field":"v2"}}},
 {"data":{"name":"a"},"transform":[{"filter":"datum.s=='B2'&&datum.k=='hd'"}],"mark":{"type":"rule","color":"#444","strokeDash":[3,2],"strokeWidth":1},
  "encoding":{"x":{"field":"t","type":"quantitative","axis":null},"x2":{"field":"t2"},"y":{"field":"v","type":"quantitative","axis":null}}},
 {"data":{"name":"a"},"transform":[{"filter":"datum.s=='B2'&&datum.k=='g'"}],"mark":{"type":"rule","color":"#8c8c8c","strokeWidth":2.2},
  "encoding":{"x":{"field":"t","type":"quantitative","axis":null},"x2":{"field":"t2"},"y":{"field":"v","type":"quantitative","axis":null},"y2":{"field":"v2"}}},
 {"data":{"name":"a"},"transform":[{"filter":"datum.s=='B2'&&datum.k=='tv'"}],"mark":{"type":"rule","color":"#555","strokeWidth":2.5},
  "encoding":{"x":{"field":"t","type":"quantitative","axis":null},"y":{"field":"v","type":"quantitative","axis":null},"y2":{"field":"v2"}}},
 {"data":{"name":"a"},"transform":[{"filter":"datum.s=='B2'&&datum.k=='hr'"}],"mark":{"type":"point","shape":"triangle-right","filled":true,"color":"#8c8c8c","size":60,"opacity":1},
  "encoding":{"x":{"field":"t","type":"quantitative","axis":null},"y":{"field":"v","type":"quantitative","axis":null}}},
 {"data":{"name":"a"},"transform":[{"filter":"datum.s=='B2'&&datum.k=='hl'"}],"mark":{"type":"point","shape":"triangle-left","filled":true,"color":"#8c8c8c","size":60,"opacity":1},
  "encoding":{"x":{"field":"t","type":"quantitative","axis":null},"y":{"field":"v","type":"quantitative","axis":null}}},
 {"data":{"name":"a"},"transform":[{"filter":"datum.s=='B2'&&datum.k=='vd'"}],"mark":{"type":"point","shape":"triangle-down","filled":true,"color":"#555","size":70,"opacity":1},
  "encoding":{"x":{"field":"t","type":"quantitative","axis":null},"y":{"field":"v","type":"quantitative","axis":null}}},
 {"data":{"name":"a"},"transform":[{"filter":"datum.s=='B2'&&datum.k=='tlab'"}],"mark":{"type":"text","fontSize":20,"color":"#111","align":"center","baseline":"middle"},
  "encoding":{"x":{"field":"t","type":"quantitative","axis":null},"y":{"field":"v","type":"quantitative","axis":null},"text":{"field":"label","type":"nominal"}}},
 {"data":{"name":"a"},"transform":[{"filter":"datum.s=='B2'&&datum.k=='plab'"}],"mark":{"type":"text","fontSize":20,"color":"#111","align":"right","baseline":"alphabetic"},
  "encoding":{"x":{"field":"t","type":"quantitative","axis":null},"y":{"field":"v","type":"quantitative","axis":null},"text":{"field":"label","type":"nominal"}}}
 ]},
{"width":375,"height":124,
 "resolve":{"axis":{"x":"independent","y":"independent"}},
 "layer":[
 {"data":{"name":"w"},"transform":[{"filter":"datum.s=='B3'"}],"mark":{"type":"line","clip":true},
  "encoding":{"x":{"field":"t","type":"quantitative","scale":{"domain":[-100,1500],"nice":false,"zero":false},"axis":{"orient":"bottom","values":[0,100,200,300,400,500,600,700,800,900,1000,1100,1200,1300,1400],"labels":false,"title":null}},
   "y":{"field":"v","type":"quantitative","scale":{"domain":[-3.3,2.67],"nice":false,"zero":false},"axis":{"orient":"right","values":[-3,-2,-1,0,1,2],"labelExpr":"datum.value==2?'2':datum.value==0?'0':datum.value==-2?'-2':''","title":null}}}},
 {"data":{"name":"a"},"transform":[{"filter":"datum.s=='B3'&&datum.k=='vdash'"}],"mark":{"type":"rule","color":"#999","strokeDash":[3,2],"strokeWidth":1},
  "encoding":{"x":{"field":"t","type":"quantitative","axis":{"orient":"top","values":[0,100,200,300,400,500,600,700,800,900,1000,1100,1200,1300,1400],"labels":false,"title":null}},"y":{"field":"v","type":"quantitative","axis":{"orient":"left","values":[-3,-2,-1,0,1,2],"labels":false,"title":null}},"y2":{"field":"v2"}}},
 {"data":{"name":"a"},"transform":[{"filter":"datum.s=='B3'&&datum.k=='g'"}],"mark":{"type":"rule","color":"#8c8c8c","strokeWidth":2.2},
  "encoding":{"x":{"field":"t","type":"quantitative","axis":null},"x2":{"field":"t2"},"y":{"field":"v","type":"quantitative","axis":null},"y2":{"field":"v2"}}},
 {"data":{"name":"a"},"transform":[{"filter":"datum.s=='B3'&&datum.k=='tv'"}],"mark":{"type":"rule","color":"#555","strokeWidth":2.5},
  "encoding":{"x":{"field":"t","type":"quantitative","axis":null},"y":{"field":"v","type":"quantitative","axis":null},"y2":{"field":"v2"}}},
 {"data":{"name":"a"},"transform":[{"filter":"datum.s=='B3'&&datum.k=='hr'"}],"mark":{"type":"point","shape":"triangle-right","filled":true,"color":"#8c8c8c","size":60,"opacity":1},
  "encoding":{"x":{"field":"t","type":"quantitative","axis":null},"y":{"field":"v","type":"quantitative","axis":null}}},
 {"data":{"name":"a"},"transform":[{"filter":"datum.s=='B3'&&datum.k=='hl'"}],"mark":{"type":"point","shape":"triangle-left","filled":true,"color":"#8c8c8c","size":60,"opacity":1},
  "encoding":{"x":{"field":"t","type":"quantitative","axis":null},"y":{"field":"v","type":"quantitative","axis":null}}},
 {"data":{"name":"a"},"transform":[{"filter":"datum.s=='B3'&&datum.k=='vd'"}],"mark":{"type":"point","shape":"triangle-down","filled":true,"color":"#555","size":70,"opacity":1},
  "encoding":{"x":{"field":"t","type":"quantitative","axis":null},"y":{"field":"v","type":"quantitative","axis":null}}},
 {"data":{"name":"a"},"transform":[{"filter":"datum.s=='B3'&&datum.k=='tlab'"}],"mark":{"type":"text","fontSize":20,"color":"#111","align":"center","baseline":"middle"},
  "encoding":{"x":{"field":"t","type":"quantitative","axis":null},"y":{"field":"v","type":"quantitative","axis":null},"text":{"field":"label","type":"nominal"}}},
 {"data":{"name":"a"},"transform":[{"filter":"datum.s=='B3'&&datum.k=='plab'"}],"mark":{"type":"text","fontSize":20,"color":"#111","align":"right","baseline":"alphabetic"},
  "encoding":{"x":{"field":"t","type":"quantitative","axis":null},"y":{"field":"v","type":"quantitative","axis":null},"text":{"field":"label","type":"nominal"}}},
 {"data":{"name":"a"},"transform":[{"filter":"datum.s=='B3'&&datum.k=='side'"}],"mark":{"type":"text","fontSize":20,"color":"#111","align":"center","baseline":"middle","angle":270},
  "encoding":{"x":{"field":"t","type":"quantitative","axis":null},"y":{"field":"v","type":"quantitative","axis":null},"text":{"field":"label","type":"nominal"}}}
 ]},
{"width":375,"height":124,
 "resolve":{"axis":{"x":"independent","y":"independent"}},
 "layer":[
 {"data":{"name":"w"},"transform":[{"filter":"datum.s=='B4'"}],"mark":{"type":"line","clip":true},
  "encoding":{"x":{"field":"t","type":"quantitative","scale":{"domain":[-100,1500],"nice":false,"zero":false},"axis":{"orient":"bottom","values":[0,100,200,300,400,500,600,700,800,900,1000,1100,1200,1300,1400],"labels":false,"title":null}},
   "y":{"field":"v","type":"quantitative","scale":{"domain":[-1.23,1.19],"nice":false,"zero":false},"axis":{"orient":"right","values":[-0.8,-0.4,0,0.4,0.8],"labelExpr":"datum.value==0.8?'0.8':datum.value==0?'0.0':datum.value==-0.8?'-0.8':''","title":null}}}},
 {"data":{"name":"a"},"transform":[{"filter":"datum.s=='B4'&&datum.k=='vdash'"}],"mark":{"type":"rule","color":"#999","strokeDash":[3,2],"strokeWidth":1},
  "encoding":{"x":{"field":"t","type":"quantitative","axis":{"orient":"top","values":[0,100,200,300,400,500,600,700,800,900,1000,1100,1200,1300,1400],"labels":false,"title":null}},"y":{"field":"v","type":"quantitative","axis":{"orient":"left","values":[-0.8,-0.4,0,0.4,0.8],"labels":false,"title":null}},"y2":{"field":"v2"}}},
 {"data":{"name":"a"},"transform":[{"filter":"datum.s=='B4'&&datum.k=='hd'"}],"mark":{"type":"rule","color":"#444","strokeDash":[3,2],"strokeWidth":1},
  "encoding":{"x":{"field":"t","type":"quantitative","axis":null},"x2":{"field":"t2"},"y":{"field":"v","type":"quantitative","axis":null}}},
 {"data":{"name":"a"},"transform":[{"filter":"datum.s=='B4'&&datum.k=='g'"}],"mark":{"type":"rule","color":"#8c8c8c","strokeWidth":2.2},
  "encoding":{"x":{"field":"t","type":"quantitative","axis":null},"x2":{"field":"t2"},"y":{"field":"v","type":"quantitative","axis":null},"y2":{"field":"v2"}}},
 {"data":{"name":"a"},"transform":[{"filter":"datum.s=='B4'&&datum.k=='tv'"}],"mark":{"type":"rule","color":"#555","strokeWidth":2.5},
  "encoding":{"x":{"field":"t","type":"quantitative","axis":null},"y":{"field":"v","type":"quantitative","axis":null},"y2":{"field":"v2"}}},
 {"data":{"name":"a"},"transform":[{"filter":"datum.s=='B4'&&datum.k=='hr'"}],"mark":{"type":"point","shape":"triangle-right","filled":true,"color":"#8c8c8c","size":60,"opacity":1},
  "encoding":{"x":{"field":"t","type":"quantitative","axis":null},"y":{"field":"v","type":"quantitative","axis":null}}},
 {"data":{"name":"a"},"transform":[{"filter":"datum.s=='B4'&&datum.k=='hl'"}],"mark":{"type":"point","shape":"triangle-left","filled":true,"color":"#8c8c8c","size":60,"opacity":1},
  "encoding":{"x":{"field":"t","type":"quantitative","axis":null},"y":{"field":"v","type":"quantitative","axis":null}}},
 {"data":{"name":"a"},"transform":[{"filter":"datum.s=='B4'&&datum.k=='vd'"}],"mark":{"type":"point","shape":"triangle-down","filled":true,"color":"#555","size":70,"opacity":1},
  "encoding":{"x":{"field":"t","type":"quantitative","axis":null},"y":{"field":"v","type":"quantitative","axis":null}}},
 {"data":{"name":"a"},"transform":[{"filter":"datum.s=='B4'&&datum.k=='tlab'"}],"mark":{"type":"text","fontSize":20,"color":"#111","align":"center","baseline":"middle"},
  "encoding":{"x":{"field":"t","type":"quantitative","axis":null},"y":{"field":"v","type":"quantitative","axis":null},"text":{"field":"label","type":"nominal"}}},
 {"data":{"name":"a"},"transform":[{"filter":"datum.s=='B4'&&datum.k=='plab'"}],"mark":{"type":"text","fontSize":20,"color":"#111","align":"right","baseline":"alphabetic"},
  "encoding":{"x":{"field":"t","type":"quantitative","axis":null},"y":{"field":"v","type":"quantitative","axis":null},"text":{"field":"label","type":"nominal"}}}
 ]},
{"width":375,"height":123,
 "resolve":{"axis":{"x":"independent","y":"independent"}},
 "layer":[
 {"data":{"name":"w"},"transform":[{"filter":"datum.s=='B5'"}],"mark":{"type":"line","clip":true},
  "encoding":{"x":{"field":"t","type":"quantitative","scale":{"domain":[-100,1500],"nice":false,"zero":false},"axis":{"orient":"bottom","values":[0,100,200,300,400,500,600,700,800,900,1000,1100,1200,1300,1400],"labelExpr":"datum.value%200==0?toString(datum.value):''","title":null}},
   "y":{"field":"v","type":"quantitative","scale":{"domain":[-74,74],"nice":false,"zero":false},"axis":{"orient":"left","values":[-50,-25,0,25,50],"labelExpr":"datum.value==50?'50':datum.value==0?'0':datum.value==-50?'-50':''","title":null}}}},
 {"data":{"name":"a"},"transform":[{"filter":"datum.s=='B5'&&datum.k=='vdash'"}],"mark":{"type":"rule","color":"#999","strokeDash":[3,2],"strokeWidth":1},
  "encoding":{"x":{"field":"t","type":"quantitative","axis":{"orient":"top","values":[0,100,200,300,400,500,600,700,800,900,1000,1100,1200,1300,1400],"labels":false,"title":null}},"y":{"field":"v","type":"quantitative","axis":{"orient":"right","values":[-50,-25,0,25,50],"labels":false,"title":null}},"y2":{"field":"v2"}}},
 {"data":{"name":"a"},"transform":[{"filter":"datum.s=='B5'&&datum.k=='ilab'"}],"mark":{"type":"text","fontSize":19,"color":"#111","align":"center","baseline":"alphabetic"},
  "encoding":{"x":{"field":"t","type":"quantitative","axis":null},"y":{"field":"v","type":"quantitative","axis":null},"text":{"field":"label","type":"nominal"}}},
 {"data":{"name":"a"},"transform":[{"filter":"datum.s=='B5'&&datum.k=='side'"}],"mark":{"type":"text","fontSize":20,"color":"#111","align":"center","baseline":"middle","angle":270},
  "encoding":{"x":{"field":"t","type":"quantitative","axis":null},"y":{"field":"v","type":"quantitative","axis":null},"text":{"field":"label","type":"nominal"}}},
 {"data":{"name":"a"},"transform":[{"filter":"datum.s=='B5'&&datum.k=='xt'"}],"mark":{"type":"text","fontSize":20,"color":"#111","align":"center","baseline":"middle"},
  "encoding":{"x":{"field":"t","type":"quantitative","axis":null},"y":{"field":"v","type":"quantitative","axis":null},"text":{"field":"label","type":"nominal"}}},
 {"data":{"name":"a"},"transform":[{"filter":"datum.s=='B5'&&datum.k=='circ'"}],"mark":{"type":"point","shape":"M -1 0 A 1 0.66 0 1 0 1 0 A 1 0.66 0 1 0 -1 0 Z","filled":false,"color":"#333","strokeWidth":1.5,"size":3969,"opacity":1},
  "encoding":{"x":{"field":"t","type":"quantitative","axis":null},"y":{"field":"v","type":"quantitative","axis":null}}},
 {"data":{"name":"a"},"transform":[{"filter":"datum.s=='B5'&&datum.k=='circ'"}],"mark":{"type":"text","fontSize":30,"fontWeight":"bold","color":"#777","align":"center","baseline":"middle","dy":2},
  "encoding":{"x":{"field":"t","type":"quantitative","axis":null},"y":{"field":"v","type":"quantitative","axis":null},"text":{"field":"label","type":"nominal"}}}
 ]}
],"spacing":0,"bounds":"flush"}
],
"spacing":15
}
